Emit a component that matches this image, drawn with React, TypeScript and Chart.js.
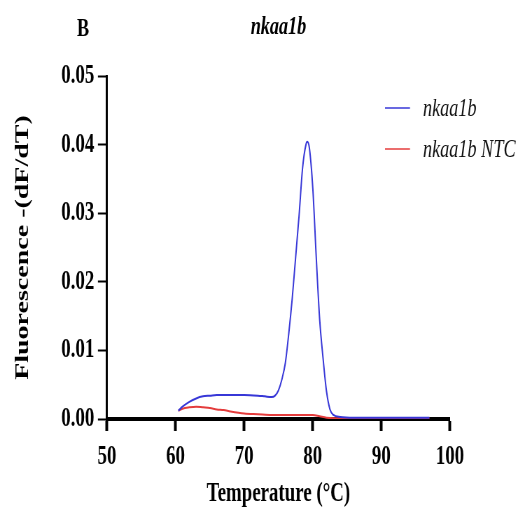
import React, { useEffect, useRef } from "react";
import { Chart, registerables } from "chart.js";

Chart.register(...registerables);

// ---- data ----
const seriesLabels = ["nkaa1b", "nkaa1b NTC"];
const chartTitle = "nkaa1b";
const panelLetter = "B";
const xAxisTitle = "Temperature (°C)";
const yAxisTitle = "Fluorescence -(dF/dT)";

const xTickValues = [50, 60, 70, 80, 90, 100];
const yTickValues = [0, 0.01, 0.02, 0.03, 0.04, 0.05];

const sampleTemps = [
  60.4, 61, 62, 63, 64, 65, 66, 68, 70, 72, 73, 74, 74.5, 75, 75.5, 76, 76.5, 77, 77.5, 78,
  78.5, 79, 79.2, 79.5, 80, 80.5, 81, 81.5, 82, 82.5, 83, 84, 86, 90, 95, 97,
];
const sampleValues = [
  0.0012, 0.0018, 0.0025, 0.003, 0.0033, 0.0034, 0.0035, 0.0035, 0.0035, 0.0034, 0.0033,
  0.0032, 0.0034, 0.0042, 0.0058, 0.0082, 0.0125, 0.0176, 0.0236, 0.0297, 0.0365, 0.0400,
  0.0404, 0.0395, 0.0336, 0.0236, 0.0145, 0.0088, 0.004, 0.0014, 0.0006, 0.0003, 0.0002,
  0.0002, 0.0002, 0.0002,
];

const ntcTemps = [60.4, 61, 62, 63, 64, 65, 66, 67, 68, 70, 72, 74, 76, 78, 80, 81, 82, 85, 90, 97];
const ntcValues = [
  0.0012, 0.0015, 0.0017, 0.0018, 0.0017, 0.0016, 0.0014, 0.0013, 0.0011, 0.0008, 0.0007,
  0.0006, 0.0006, 0.0006, 0.0006, 0.0004, 0.0002, 0.0001, 0.0001, 0.0001,
];

const seriesColors = ["rgb(55,55,215)", "rgb(228,60,60)"];

// ---- layout (the figure is horizontally squeezed) ----
const SQUEEZE = 0.7;
const PAGE_W = 526;
const PAGE_H = 512;
const CANVAS_W = Math.round(PAGE_W / SQUEEZE);
const SERIF = '"Liberation Serif", "Times New Roman", serif';

const AREA_LEFT = 107 / SQUEEZE;
const AREA_RIGHT = 450 / SQUEEZE;
const AREA_TOP = 76;
const AREA_BOTTOM = 419;

const decorPlugin = {
  id: "decor",
  afterDraw(chart: any) {
    const ctx = chart.ctx as CanvasRenderingContext2D;
    const area = chart.chartArea;
    ctx.save();
    ctx.fillStyle = "#000";
    ctx.textBaseline = "alphabetic";
    ctx.font = `bold 26px ${SERIF}`;
    ctx.textAlign = "left";
    ctx.fillText(panelLetter, 77 / SQUEEZE, 36);
    ctx.font = `italic bold 26px ${SERIF}`;
    ctx.textAlign = "center";
    ctx.fillText(chartTitle, (area.left + area.right) / 2, 34);

    // legend
    chart.data.datasets.forEach((ds: any, i: number) => {
      const y = 108 + i * 41;
      ctx.strokeStyle = ds.borderColor;
      ctx.lineWidth = 1.5;
      ctx.beginPath();
      ctx.moveTo(385 / SQUEEZE, y);
      ctx.lineTo(410 / SQUEEZE, y);
      ctx.stroke();
      ctx.fillStyle = "#111";
      ctx.font = `italic 26px ${SERIF}`;
      ctx.textAlign = "left";
      ctx.textBaseline = "middle";
      ctx.fillText(ds.label, 423 / SQUEEZE, y + 1);
    });
    ctx.restore();
  },
};

export default function App() {
  const ref = useRef<HTMLCanvasElement>(null);

  useEffect(() => {
    document.body.style.margin = "0";
    const canvas = ref.current!;
    const chart = new Chart(canvas, {
      type: "line",
      data: {
        datasets: [
          {
            label: seriesLabels[0],
            data: sampleTemps.map((t, i) => ({ x: t, y: sampleValues[i] })),
            borderColor: seriesColors[0],
            borderWidth: 2,
            pointRadius: 0,
            cubicInterpolationMode: "monotone",
            fill: false,
          },
          {
            label: seriesLabels[1],
            data: ntcTemps.map((t, i) => ({ x: t, y: ntcValues[i] })),
            borderColor: seriesColors[1],
            borderWidth: 2,
            pointRadius: 0,
            cubicInterpolationMode: "monotone",
            fill: false,
          },
        ],
      },
      options: {
        animation: false,
        responsive: false,
        devicePixelRatio: 1,
        layout: {
          padding: { top: AREA_TOP, right: CANVAS_W - AREA_RIGHT, left: 0, bottom: 0 },
        },
        plugins: {
          legend: { display: false },
          tooltip: { enabled: false },
          title: { display: false },
        },
        scales: {
          x: {
            type: "linear",
            min: 50,
            max: 100,
            afterFit: (s: any) => {
              s.height = PAGE_H - AREA_BOTTOM;
            },
            afterBuildTicks: (s: any) => {
              s.ticks = xTickValues.map((v) => ({ value: v }));
            },
            ticks: {
              color: "#000",
              font: { family: SERIF, size: 27, weight: "bold" },
              padding: 10,
              maxRotation: 0,
              autoSkip: false,
            },
            grid: {
              display: true,
              drawOnChartArea: false,
              drawTicks: true,
              tickLength: 12,
              tickWidth: 4,
              tickColor: "#000",
            },
            border: { display: true, color: "#000", width: 4 },
            title: {
              display: true,
              text: xAxisTitle,
              color: "#000",
              font: { family: SERIF, size: 27, weight: "bold" },
              padding: { top: 0, bottom: 2 },
            },
          },
          y: {
            type: "linear",
            min: 0,
            max: 0.05,
            afterFit: (s: any) => {
              s.width = AREA_LEFT;
            },
            afterBuildTicks: (s: any) => {
              s.ticks = yTickValues.map((v) => ({ value: v }));
            },
            ticks: {
              color: "#000",
              font: { family: SERIF, size: 27, weight: "bold" },
              padding: 5,
              callback: (v: any) => Number(v).toFixed(2),
            },
            grid: {
              display: true,
              drawOnChartArea: false,
              drawTicks: true,
              tickLength: 13,
              tickWidth: 2,
              tickColor: "#000",
            },
            border: { display: true, color: "#000", width: 3 },
            title: {
              display: true,
              text: yAxisTitle,
              color: "#000",
              font: { family: SERIF, size: 28, weight: "bold" },
              padding: { top: 16, bottom: 0 },
            },
          },
        },
      } as any,
      plugins: [decorPlugin],
    });
    return () => chart.destroy();
  }, []);

  return (
    <div
      style={{
        position: "absolute",
        left: 0,
        top: 0,
        width: PAGE_W,
        height: PAGE_H,
        overflow: "hidden",
        background: "#fff",
      }}
    >
      <div
        style={{
          width: CANVAS_W,
          height: PAGE_H,
          transform: `scaleX(${SQUEEZE})`,
          transformOrigin: "0 0",
        }}
      >
        <canvas ref={ref} width={CANVAS_W} height={PAGE_H} style={{ display: "block" }} />
      </div>
    </div>
  );
}
